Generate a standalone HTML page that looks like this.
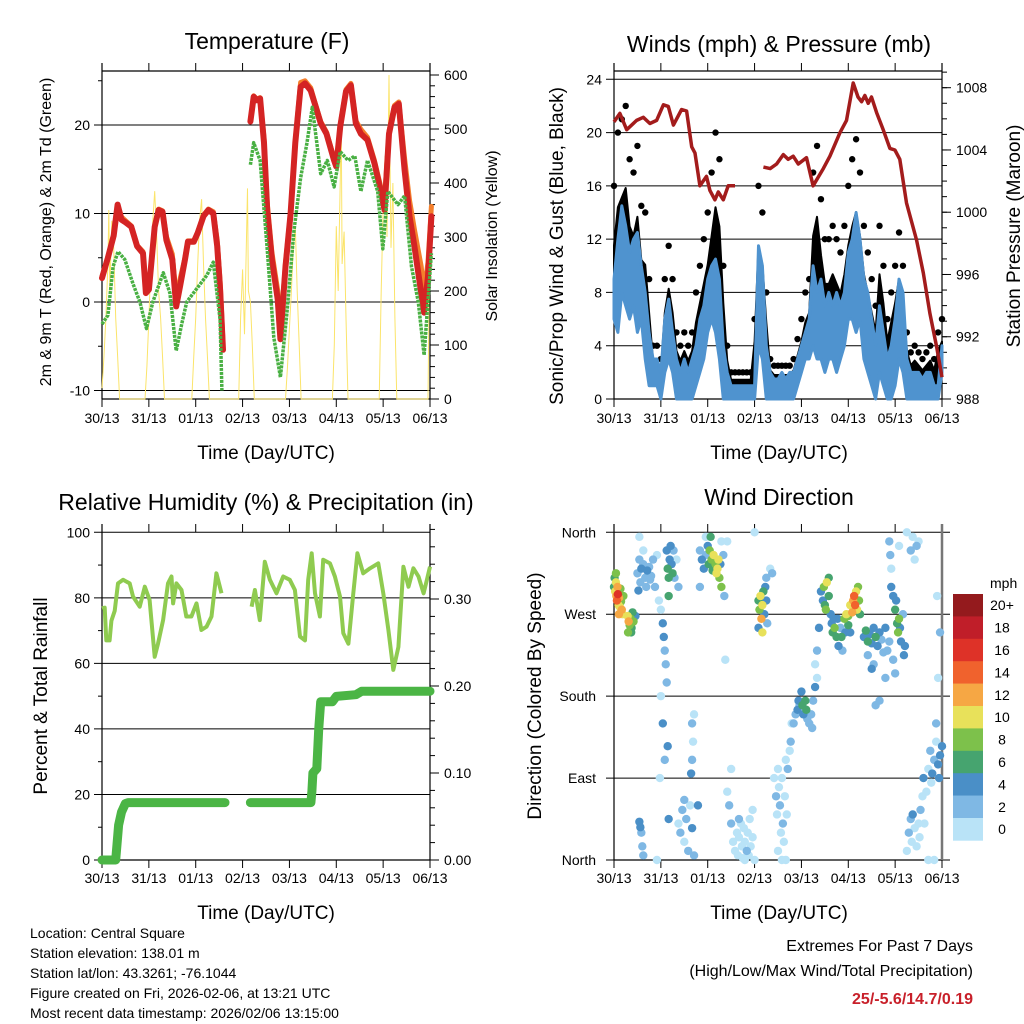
<!DOCTYPE html>
<html><head><meta charset="utf-8"><title>Weather station 7-day charts</title>
<style>
html,body{margin:0;padding:0;background:#fff;}
svg{display:block;font-family:"Liberation Sans",Arial,sans-serif;}
</style></head>
<body>
<svg id="chart" xmlns="http://www.w3.org/2000/svg" width="1024" height="1024" viewBox="0 0 1024 1024">
<rect x="0" y="0" width="1024" height="1024" fill="#fff"/>
<g id="layer"></g>
<text x="267" y="49" font-size="23" text-anchor="middle">Temperature (F)</text>
<text x="779" y="52" font-size="23" text-anchor="middle">Winds (mph) &amp; Pressure (mb)</text>
<text x="266" y="510" font-size="23" text-anchor="middle">Relative Humidity (%) &amp; Precipitation (in)</text>
<text x="779" y="505" font-size="23" text-anchor="middle">Wind Direction</text>

<text x="266" y="459" font-size="19" text-anchor="middle">Time (Day/UTC)</text>
<text x="779" y="459" font-size="19" text-anchor="middle">Time (Day/UTC)</text>
<text x="266" y="919" font-size="19" text-anchor="middle">Time (Day/UTC)</text>
<text x="779" y="919" font-size="19" text-anchor="middle">Time (Day/UTC)</text>

<text transform="translate(51,232) rotate(-90)" font-size="16" text-anchor="middle">2m &amp; 9m T (Red, Orange) &amp; 2m Td (Green)</text>
<text transform="translate(497,236) rotate(-90)" font-size="16" text-anchor="middle">Solar Insolation (Yellow)</text>
<text transform="translate(563,246) rotate(-90)" font-size="19" text-anchor="middle">Sonic/Prop Wind &amp; Gust (Blue, Black)</text>
<text transform="translate(1020,236) rotate(-90)" font-size="19" text-anchor="middle">Station Pressure (Maroon)</text>
<text transform="translate(47,696) rotate(-90)" font-size="19" text-anchor="middle">Percent &amp; Total Rainfall</text>
<text transform="translate(541,696) rotate(-90)" font-size="19" text-anchor="middle">Direction (Colored By Speed)</text>

<g font-size="14">
<text x="30" y="938">Location: Central Square</text>
<text x="30" y="958">Station elevation: 138.01 m</text>
<text x="30" y="978">Station lat/lon: 43.3261; -76.1044</text>
<text x="30" y="998">Figure created on Fri, 2026-02-06, at 13:21 UTC</text>
<text x="30" y="1018">Most recent data timestamp: 2026/02/06 13:15:00</text>
</g>
<text x="973" y="951" font-size="16" text-anchor="end">Extremes For Past 7 Days</text>
<text x="973" y="976" font-size="16" text-anchor="end">(High/Low/Max Wind/Total Precipitation)</text>
<text x="973" y="1004" font-size="16" font-weight="bold" fill="#c8202a" text-anchor="end">25/-5.6/14.7/0.19</text>
</svg>
<script>
// ---------------- data ----------------
const dayLabels = ["30/13","31/13","01/13","02/13","03/13","04/13","05/13","06/13"];
const tempTicks = [-10,0,10,20];
const solarTicks = [0,100,200,300,400,500,600];
const windTicks = [0,4,8,12,16,20,24];
const pressTicks = [988,992,996,1000,1004,1008];
const rhTicks = [0,20,40,60,80,100];
const rainTicks = ["0.00","0.10","0.20","0.30"];
const dirLabels = ["North","East","South","West","North"];
const speedBinLabels = ["0","2","4","6","8","10","12","14","16","18","20+"];

const tempHours = [0,3,6,8,10,12,15,18,21,22.5,24,27,29,31,33,36,38,40,42.5,44,47,49,52,54.5,57,59,60.5,62,null,76,77.7,79.4,81,83,84.6,87,90,91.4,94,96.6,99,101.7,104,106.9,109,112,115,118.9,120,122,125,127.5,130,132.6,136,139.5,143,144.7,147,149.8,152,155,157.5,160,163.5,165,167,168.7];
const temp2m = [2.7,5.0,7.5,11,9.3,9.0,8.5,6.3,5.5,1.0,1.4,8.5,10.4,10.2,7,4.8,-0.5,1.8,4.8,6.8,6.8,7.8,9.7,10.4,10,6.3,1.4,-5.4,null,20.4,23.2,22.8,23,18,10.4,4.8,0.3,-4.2,4,10,18,24.3,24.7,23.9,22.4,20.2,19,16,15.3,19.8,23.8,24.5,20.2,19,18.3,15.7,12.3,10.4,19,22,22.4,14.9,9.7,6.3,1,-1.2,2.9,9.7];
const temp9m = [2.9,5.1,7.6,11,9.6,9.2,8.6,6.4,5.7,1.3,1.6,8.6,10.5,10.3,7.4,5.4,0.5,2.6,5.0,6.9,6.9,7.9,9.8,10.5,10.2,7.0,2.4,-4.6,null,20.5,23.3,22.9,23.1,18.5,11.2,5.6,1.3,-3.4,4.4,10.2,18.2,24.8,25.0,24.2,22.6,20.4,19.2,16.2,15.5,20.0,24.0,24.7,20.5,19.5,18.6,16.0,12.8,11.5,19.3,22.2,22.6,16.2,11.5,8.2,4.0,1.0,4.5,10.8];
const dewHours = [0,3,5.7,8.2,11.7,16,19.4,22.8,26,31.4,34.8,38,40.8,43.4,48.5,53.7,57,60.5,61.4,null,76,77.7,81,84.6,88,91.4,94.8,98.3,101.7,105,107.7,112,115.4,118.9,122,126,129.5,132.6,136,141.2,143.8,146.4,151.6,155,158.5,162,165,168.7];
const dew2m = [-2.5,-1.5,4,5.7,4.8,2,0,-3,0,3.3,1,-5.5,-2.5,0,1.5,3,4.5,-2,-10,null,15.5,18,16,6,-4,-8.5,-1,8,14,18,22,14.5,16,13,17,16,16.5,12.5,16,12.5,6,12.5,11,12,4,0,-6,5.5];

const solarHours = [0,1,2,3,3.5,4,5,6,7,8,9,22,23,24,25,26,27,28,29,30,31,32,46,47,48,49,50,51,52,53,54,55,70,71,72,73,74,74.5,75,76,77,78,94,95,96,97,98,99,100,101,102,118,119,120,121,122,122.5,123,124,125,126,142,143,144,145,146,147,148,149,150,151,167,168];
const solarValues = [20,80,150,250,350,200,330,280,150,80,0,0,60,150,250,330,385,300,200,150,80,0,0,80,150,250,330,370,250,150,80,0,0,150,240,120,300,390,200,180,100,0,0,60,130,200,280,320,200,100,0,0,100,320,200,400,530,250,310,150,0,0,200,350,450,300,600,280,400,150,0,0,360];

const windHours = [0,2,4,6,8,10,12,14,16,18,20,22,24,26,28,30,32,34,36,38,40,42,44,46,48,50,52,54,56,58,60,62,64,66,68,70,72,74,76,78,80,82,84,86,88,90,92,94,96,98,100,102,104,106,108,110,112,114,116,118,120,122,124,126,128,130,132,134,136,138,140,142,144,146,148,150,152,154,156,158,160,162,164,166,168];
const windLow = [6,5,8,7,6,7,5,6,3,1,1,1,0,2,3,2,0,0,0,0,0,1,2,3,5,6,5,3,0,0,0,0,0,0,0,0,0,4,3,0,0,0,0,0,0,0,0,1,2,3,3,4,3,3,2,3,3,2,3,4,6,6,5,6,3,2,1,0,2,1,0,0,1,3,2,0,0,0,0,0,0,0,0,0,2];
const windHigh = [9,12,14.5,13,11,12,12.5,10,8,5,3,3,2,6,7.5,5,3,2,3,2,3,4,6,7,9,10,10.5,9,4,2,1,1,1,1,1,1,1,11.5,10,4,2,1.5,1.5,2,1.5,2,2,3,4,5,6,10,8,9,7,8,7,8,7,8,11,12,14,12,9,8,6,4,7,5,3,4,6,9,8,3,2,2,2,1.5,2,2,1,1,4];
const windGust = [16,20,21,22,18,17,19,14.5,14,9,4,4,3,9,11.5,9,5,4,5,4,5,8,10,12,14,17,20,18,10,4,2,2,2,2,2,2,6,16,14,8,3,2.5,2.5,2.5,2.5,2.5,3,4.5,6,8,9,17,19,15,12,12,13,12,11,13,16,18,19.5,17,13,11,9,7,13,10,6,8,10,12.5,10,5,3.5,4,3.5,3,3.5,4,3,5,6];

const pressHours = [0,3,6.5,11.6,15,18.4,21.8,25.3,27.8,30.4,34.6,37.2,39.8,41.5,44,47.4,49.1,51.7,53.4,56,58.5,62,null,76.5,80,83.3,86.7,89.2,91.8,94.4,98.6,102,107.2,110.6,115.7,119.1,122.5,125,126.8,128.5,130.2,131.9,134.5,137.9,141.3,143.9,146.4,149.8,155,158.4,161.8,165.2,168];
const pressValues = [1005.8,1006.35,1005.3,1005.9,1006.1,1005.7,1005.9,1006.9,1006.8,1005.6,1006.6,1006.5,1004.2,1003.8,1001.7,1002.3,1001.4,1000.8,1001.3,1000.8,1001.7,1001.7,null,1002.9,1002.8,1003.1,1003.7,1003.4,1003.6,1003.1,1003.5,1001.7,1002.8,1003.6,1005.1,1005.9,1008.3,1007.4,1007.1,1007.5,1007,1007.4,1006.4,1005.3,1004.1,1004,1003.4,1000.6,998.2,996.1,993.5,991.4,989.4];

const rhHours = [0,1.4,2.2,3.9,4.8,6.5,8.2,10.8,14.2,15.9,19.3,21.9,24.4,27,28.7,31.3,33.8,35.6,36.4,38.1,40.7,43.2,45.8,48.4,50.9,53.5,56.1,58.6,61.2,null,76.6,78.3,80.8,83.4,86,89.4,92.8,96.2,98.8,101.4,104,105.6,107.4,109.1,111.6,113.3,116.8,119.3,121.9,123.6,126.2,128.7,130.8,133.8,137.3,141.5,144.1,146.7,149.2,151.8,154.4,157,159.5,162.1,164.7,166.4,168];
const rhValues = [76.8,77,67,67,73,76,84.4,85.5,84.4,80.4,77.3,83.4,79.3,62,66,73.2,84.4,86.5,78.3,84.4,82.4,74.3,74.3,78.3,70.2,71.2,74.3,87.5,81.4,null,77.3,82.4,73.2,91,85.5,81.4,86.5,85.5,82.4,68.2,67,85.5,93.6,81.4,74.3,91.6,90.5,86.5,80.4,69.2,66,81.4,93.6,87.5,89,90.5,81.4,70.2,58,65,89.5,83.4,89,86.5,81.4,85.5,89.5];
const rainHours = [0,7,8.5,10,12,13.5,63,null,76,107,107.5,108,110,111,112,118,120,130,133,168];
const rainValues = [0,0,0.04,0.055,0.065,0.066,0.066,null,0.066,0.066,0.079,0.1,0.105,0.15,0.182,0.182,0.188,0.19,0.194,0.194];

// wind direction observations: [hour, degrees, speed mph]
const dirObs = [
[0,300,6],[0.3,310,6],[0.6,295,10],[1,305,10],[1.2,290,12],[1.5,285,14],[1.8,300,12],[2,292,16],[2.3,280,10],[2.6,288,12],[3,278,10],[3.3,298,8],[3.6,284,8],[4,275,12],[4.4,270,10],[4.8,290,8],[1,315,8],[2.5,270,12],
[7,268,10],[7.5,262,12],[8,258,8],[8.5,265,8],[9,255,6],[9.5,272,6],[10,262,8],[11,268,4],[7.2,250,8],[8.8,250,6],
[12,315,2],[13,330,2],[13.5,305,2],[14,320,4],[15,325,2],[16,310,2],[16.5,300,2],[17,318,4],[18,322,2],[18.5,308,2],[19,312,2],[20,330,2],[21,300,2],[22,335,0],[13,355,0],[15,340,0],[12.5,296,4],
[13,42,4],[13.5,36,4],[14,30,2],[14.5,15,2],[15,5,2],[22,0,0],
[23,285,0],[24,275,0],[25,260,4],[25.5,245,4],[26,230,2],[26.5,215,2],[27,195,2],[25,150,4],[26,110,2],[24,180,0],[23.5,90,0],[27.5,125,4],[28,45,4],
[27,340,4],[27.5,320,6],[28,310,6],[28.5,330,4],[29,345,4],[29.5,325,4],[30,315,6],[28,290,6],[30.5,340,2],[31,310,2],[32,330,0],[33,300,2],
[33,40,0],[34,30,2],[35,55,2],[36,20,0],[37,45,2],[38,10,2],[39,60,0],[40,35,4],[41,5,2],[36,66,2],[40,110,2],[40.5,130,0],[40,150,2],[39.5,95,4],[41,160,0],[43,60,4],
[44,340,2],[45,330,4],[46,320,4],[47,335,2],[48,345,4],[48.5,325,6],[49,340,8],[49.5,355,6],[50,330,8],[50.5,318,6],[51,335,10],[52,325,8],[52.5,315,10],[53,320,10],[53.5,330,10],[54,310,8],[54.5,325,4],[55,300,8],[56,335,2],[55,350,0],[47,355,0],[44,300,2],
[56.5,290,2],[57,220,0],[58,350,0],[58,75,0],[59,60,2],[60,100,0],[60,40,2],
[61,20,0],[62,10,0],[63,30,0],[63.5,5,0],[64,25,0],[65,40,0],[65.5,15,0],[66,2,0],[66.5,35,0],[67,20,0],[68,10,2],[68.5,30,0],[69,5,0],[69.5,45,0],[70,15,0],[71,25,0],[72,0,0],[64,45,2],[67,0,0],[71,55,0],[72,360,0],
[74,285,6],[74.5,275,8],[75,290,10],[75.5,265,12],[76,280,10],[76.5,295,6],[77,270,4],[77.5,300,4],[78,285,4],[78.5,260,2],[74,255,4],[76,250,10],[78,310,2],[80,320,0],[81,315,2],
[82,90,0],[83,70,2],[83.5,50,0],[84,100,0],[84.5,80,0],[85,60,2],[85.5,30,0],[86,90,0],[86.5,40,2],[87,20,0],[87.5,70,0],[88,110,0],[88.5,50,0],[89,100,2],[90,120,0],[90.5,130,2],[91,150,0],[84,10,0],[86,0,0],[88,0,0],
[92,150,2],[93,160,2],[94,165,4],[94.5,175,4],[95,170,2],[96,185,4],[96.5,170,6],[97,160,4],[98,175,6],[98.5,165,6],[99,155,2],[100,150,2],[101,160,2],[101.5,145,2],[102,175,2],[103,190,4],[104,200,0],[104,230,2],[103,215,0],
[106,295,4],[107,285,4],[107.5,300,8],[108,280,6],[108.5,275,8],[109,305,10],[110,290,6],[111,270,4],[111.5,260,4],[112,250,6],[112.5,265,4],[113,255,8],[114,245,6],[114.5,265,4],[115,235,4],[116,255,2],[116.5,245,6],[117,230,2],[118,265,8],[118.5,250,4],[110,310,6],[105,255,4],
[119,270,10],[120,268,8],[121,280,10],[122,272,12],[122.5,285,12],[123,290,14],[123.5,280,14],[124,295,10],[124.5,275,10],[125,300,8],[125.5,285,8],[126,270,6],[120,258,6],[121,250,4],
[128,245,4],[129,252,6],[130,240,6],[131,248,4],[132,238,4],[133,255,4],[134,245,6],[135,235,4],[136,250,4],[137,242,2],[138,228,2],[139,255,4],[130,225,2],[133,215,2],[132,210,4],
[140,230,2],[141,240,2],[142,300,4],[143,290,4],[144,275,6],[144.5,285,4],[145,260,6],[145.5,250,8],[146,265,8],[146.5,255,4],[147,240,4],[148,270,2],[148.5,225,4],[149,235,4],[143,220,2],[144,205,2],[141,350,2],[141.5,335,2],[142,320,0],
[152,340,2],[153,355,0],[154,330,0],[155,345,2],[156,350,0],[150,360,0],
[150,10,0],[151,30,2],[152,45,2],[152.5,20,0],[153,50,4],[154,35,0],[155,15,0],[156,40,0],[156.5,25,0],[157,55,2],[158,70,0],[158.5,90,4],[159,40,0],[160,75,0],[161,100,0],[162,120,2],[162.5,85,0],[163,95,4],[164,110,2],[165,130,0],[166,105,4],[166.5,90,4],[167,115,4],[168,125,4],[161,0,0],[164,0,0],[165,150,2],[166,200,0],[167,250,2],[165.5,290,0],
[146,345,0],[139,200,2],[134,170,2],[136,175,2]
];
const speedColors = ["#b9e3f7","#7fb8e4","#4a8fc7","#46a46f","#7dc14b","#e8e15a","#f6a744","#f0622d","#de3228","#c01e29","#941a1d"];

// ---------------- drawing ----------------
const NS = "http://www.w3.org/2000/svg";
const layer = document.getElementById('layer');
function mk(tag, attrs, parent){
  const e = document.createElementNS(NS, tag);
  for (const k in attrs) e.setAttribute(k, attrs[k]);
  (parent||layer).appendChild(e);
  return e;
}
function linScale(d0,d1,r0,r1){ return v => r0 + (v-d0)/(d1-d0)*(r1-r0); }
function pathFrom(xs, ys, sx, sy){
  let d = "", pen = false;
  for (let i=0;i<xs.length;i++){
    if (xs[i]===null || ys[i]===null){ pen=false; continue; }
    d += (pen?"L":"M") + sx(xs[i]).toFixed(1) + "," + sy(ys[i]).toFixed(1);
    pen = true;
  }
  return d;
}

function frame(x0,x1,yTop,yBot,name,bottomLabelY){
  const g = mk('g',{});
  
  
  const sx = linScale(0,168,x0,x1);
  mk('line',{x1:x0,y1:yTop-8,x2:x0,y2:yBot,stroke:'#000','stroke-width':1.2},g);
  mk('line',{x1:x1,y1:yTop-8,x2:x1,y2:yBot,stroke:'#000','stroke-width':1.2},g);
  mk('line',{x1:x0,y1:yBot,x2:x1,y2:yBot,stroke:'#000','stroke-width':1.2},g);
  for (let i=0;i<dayLabels.length;i++){
    const x = sx(i*24);
    mk('line',{x1:x,y1:yTop-8,x2:x,y2:yTop,stroke:'#000','stroke-width':1},g);
    mk('line',{x1:x,y1:yBot,x2:x,y2:yBot+8,stroke:'#000','stroke-width':1},g);
    const t = mk('text',{x:x,y:bottomLabelY,'font-size':14,'text-anchor':'middle'},g);
    
    
    t.textContent = dayLabels[i];
  }
  return sx;
}
function leftTicks(x0,x1,sy,ticks,name,labels){
  for (let i=0;i<ticks.length;i++){
    const y = sy(ticks[i]);
    mk('line',{x1:x0-8,y1:y,x2:x1,y2:y,stroke:'#000','stroke-width':1});
    const t = mk('text',{x:x0-12,y:y+5,'font-size':14,'text-anchor':'end'});
    
    
    t.textContent = labels ? labels[i] : ticks[i];
  }
}
function rightTicks(x1,sy,ticks,labels,name,minorStep,lo,hi,yTop,yBot){
  for (let v=lo; v<=hi+1e-9; v+=minorStep){
    const y = sy(v); if (y<yTop-8||y>yBot+0.5) continue;
    mk('line',{x1:x1,y1:y,x2:x1+5,y2:y,stroke:'#000','stroke-width':1});
  }
  for (let i=0;i<ticks.length;i++){
    const y = sy(ticks[i]);
    mk('line',{x1:x1,y1:y,x2:x1+9,y2:y,stroke:'#000','stroke-width':1});
    const t = mk('text',{x:x1+14,y:y+5,'font-size':14});
    
    
    t.textContent = labels[i];
  }
}

// ---- Panel 1: Temperature ----
(function(){
  const x0=102,x1=430,yTop=71,yBot=399;
  const sx = frame(x0,x1,yTop,yBot,'temperature',423);
  const sy = linScale(0,20,302,125);
  const sSolar = linScale(0,600,399,75);
  mk('line',{x1:x0,y1:yTop,x2:x1,y2:yTop,stroke:'#000','stroke-width':1.2});
  for (let v=-10; v<=25; v+=5){ const y=sy(v); mk('line',{x1:x0-4,y1:y,x2:x0,y2:y,stroke:'#000'}); }
  leftTicks(x0,x1,sy,tempTicks,'temperature');
  rightTicks(x1,sSolar,solarTicks,solarTicks,'solar',20,0,600,yTop,yBot);
  const p1 = mk('path',{d:pathFrom(solarHours,solarValues,sx,sSolar),fill:'none',stroke:'#fbe46a','stroke-width':1});
  
  
  const p2 = mk('path',{d:pathFrom(tempHours,temp9m,sx,sy),fill:'none',stroke:'#f47f2c','stroke-width':5,'stroke-linejoin':'round','stroke-linecap':'round'});
  
  
  const p3 = mk('path',{d:pathFrom(tempHours,temp2m,sx,sy),fill:'none',stroke:'#d42424','stroke-width':6,'stroke-linejoin':'round','stroke-linecap':'round'});
  
  
  const p4 = mk('path',{d:pathFrom(dewHours,dew2m,sx,sy),fill:'none',stroke:'#49b043','stroke-width':3.5,'stroke-dasharray':'3 1','stroke-linejoin':'round'});
  
  
})();

// ---- Panel 2: Winds & Pressure ----
(function(){
  const x0=614,x1=942,yTop=71,yBot=399;
  const sx = frame(x0,x1,yTop,yBot,'winds',423);
  const sy = linScale(0,24,399,79.3);
  const sp = linScale(988,1008,399,87.7);
  mk('line',{x1:x0,y1:yTop,x2:x1,y2:yTop,stroke:'#000','stroke-width':1.2});
  leftTicks(x0,x1,sy,windTicks,'wind');
  rightTicks(x1,sp,pressTicks,pressTicks,'pressure',1,988,1009,yTop,yBot);
  let d="";
  for (let i=0;i<windHours.length;i++) d += (i?"L":"M")+sx(windHours[i]).toFixed(1)+","+sy(windGust[i]*0.72).toFixed(1);
  for (let i=windHours.length-1;i>=0;i--) d += "L"+sx(windHours[i]).toFixed(1)+","+sy(windLow[i]).toFixed(1);
  const gb = mk('path',{d:d+"Z",fill:'#000',stroke:'#000','stroke-width':2,'stroke-linejoin':'round'});
  
  
  for (let i=0;i<windHours.length;i++){
    const c = mk('circle',{cx:sx(windHours[i]),cy:sy(windGust[i]),r:3.2,fill:'#000'});
    
    
  }
  d="";
  for (let i=0;i<windHours.length;i++) d += (i?"L":"M")+sx(windHours[i]).toFixed(1)+","+sy(windHigh[i]).toFixed(1);
  for (let i=windHours.length-1;i>=0;i--) d += "L"+sx(windHours[i]).toFixed(1)+","+sy(windLow[i]).toFixed(1);
  const wb = mk('path',{d:d+"Z",fill:'#4f93cf',stroke:'#4f93cf','stroke-width':3,'stroke-linejoin':'round'});
  
  
  const pl = mk('path',{d:pathFrom(pressHours,pressValues,sx,sp),fill:'none',stroke:'#a31c1c','stroke-width':3.5,'stroke-linejoin':'round'});
  
  
})();

// ---- Panel 3: RH & Precip ----
(function(){
  const x0=102,x1=430,yTop=532,yBot=860;
  const sx = frame(x0,x1,yTop,yBot,'humidity',883);
  const sy = linScale(0,100,860,532.3);
  const sr = linScale(0,0.1,860,773);
  leftTicks(x0,x1,sy,rhTicks,'humidity');
  for (let v=10; v<100; v+=20){ const y=sy(v); mk('line',{x1:x0-4,y1:y,x2:x0,y2:y,stroke:'#000'}); }
  rightTicks(x1,sr,[0,0.1,0.2,0.3],rainTicks,'rainfall',0.02,0,0.38,yTop,yBot);
  const rl = mk('path',{d:pathFrom(rhHours,rhValues,sx,sy),fill:'none',stroke:'#8fcb50','stroke-width':4,'stroke-linejoin':'round'});
  
  
  const pr = mk('path',{d:pathFrom(rainHours,rainValues,sx,sr),fill:'none',stroke:'#4bb545','stroke-width':9,'stroke-linejoin':'round','stroke-linecap':'round'});
  
  
})();

// ---- Panel 4: Wind direction ----
(function(){
  const x0=614,x1=942,yTop=532,yBot=860;
  const sx = frame(x0,x1,yTop,yBot,'direction',883);
  const sy = linScale(0,360,860,532.3);
  const dirDeg = [0,90,180,270,360];
  for (let i=0;i<dirDeg.length;i++){
    const y = sy(dirDeg[i]);
    mk('line',{x1:x0-8,y1:y,x2:x1+8,y2:y,stroke:'#000','stroke-width':1});
    const t = mk('text',{x:x0-18,y:y+5,'font-size':14,'text-anchor':'end'});
    
    
    t.textContent = dirLabels[i];
  }
  mk('line',{x1:x1,y1:yTop-8,x2:x1,y2:yBot,stroke:'#777','stroke-width':2.5});
  const order = dirObs.map((o,i)=>i).sort((a,b)=>dirObs[a][2]-dirObs[b][2]);
  for (const i of order){
    const o = dirObs[i];
    const bin = Math.min(10, Math.floor(o[2]/2));
    const c = mk('circle',{cx:sx(o[0]),cy:sy(o[1]),r:4.2,fill:speedColors[bin]});
    
    
  }
  const cb = mk('g',{});
  
  
  const top=594, bh=22.4;
  for (let k=0;k<speedColors.length;k++){
    const idx = speedColors.length-1-k;
    mk('rect',{x:953,y:top+k*bh,width:30,height:bh+0.3,fill:speedColors[idx]},cb);
    const t = mk('text',{x:1002,y:top+k*bh+bh/2+5,'font-size':14,'text-anchor':'middle'},cb);
    
    
    t.textContent = speedBinLabels[idx];
  }
  const u = mk('text',{x:990,y:588,'font-size':14},cb);
  
  
  u.textContent = 'mph';
})();
</script>
</body></html>
